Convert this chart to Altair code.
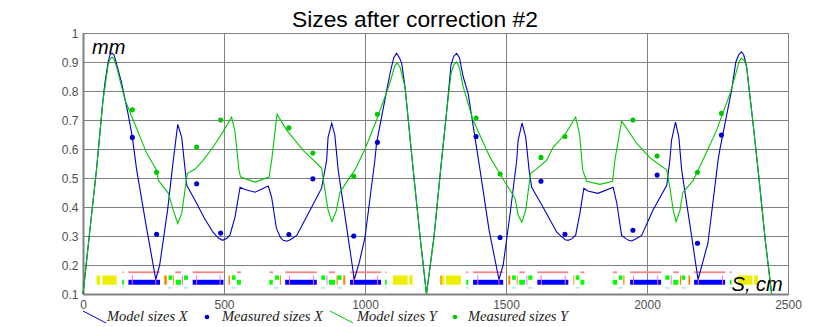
import altair as alt
import pandas as pd

TITLE = "Sizes after correction #2"

blue_s = [0,20,48,70,78,89,96,103,110,120,137,160,175,190,225,258,272,300,320,336,350,362,368,403,430,461,480,495,510,521,539,557,574,610,657,669,686,700,710,722,735,758,805,846,864,869,882,893,905,935,962,980,1000,1035,1041,1082,1092,1102,1112,1122,1130,1142,1170,1195,1218,1245,1268,1290,1305,1315,1325,1335,1348,1366,1408,1440,1475,1490,1515,1538,1543,1557,1570,1582,1591,1631,1680,1700,1710,1720,1733,1747,1762,1776,1790,1826,1880,1893,1910,1925,1935,1945,1960,1981,2021,2070,2081,2087,2101,2113,2123,2155,2181,2216,2252,2258,2300,2315,2325,2335,2343,2353,2376,2394,2420,2442]
blue_y = [.1,.28,.53,.76,.83,.9,.925,.93,.925,.89,.827,.72,.64,.53,.33,.15,.2,.39,.56,.685,.64,.53,.475,.413,.362,.313,.293,.285,.292,.303,.365,.468,.46,.451,.472,.433,.326,.295,.285,.282,.287,.302,.389,.465,.561,.64,.689,.648,.527,.33,.15,.21,.295,.561,.62,.827,.875,.915,.93,.915,.896,.813,.537,.3,.1,.3,.527,.734,.89,.92,.93,.915,.85,.79,.527,.32,.15,.2,.38,.561,.63,.69,.64,.527,.468,.4,.313,.295,.287,.285,.29,.303,.378,.465,.455,.447,.468,.413,.302,.291,.285,.283,.29,.302,.389,.475,.561,.63,.693,.64,.527,.32,.15,.275,.561,.596,.803,.9,.925,.935,.925,.885,.689,.527,.28,.1]

green_s = [0,20,48,70,89,96,103,110,120,149,178,226,261,267,303,320,336,350,370,397,426,461,497,527,539,553,559,610,660,669,688,722,780,846,858,869,883,899,911,946,964,1000,1041,1082,1095,1105,1114,1125,1142,1170,1195,1218,1245,1268,1290,1305,1315,1325,1335,1348,1383,1443,1471,1496,1532,1543,1556,1570,1587,1603,1644,1667,1709,1747,1761,1772,1786,1833,1878,1886,1910,1963,2010,2070,2081,2093,2103,2117,2127,2163,2181,2198,2247,2294,2318,2328,2335,2345,2353,2376,2394,2420,2442]
green_y = [.1,.28,.53,.76,.89,.91,.917,.91,.88,.769,.70,.585,.527,.492,.447,.389,.343,.378,.516,.53,.561,.606,.66,.71,.66,.527,.503,.486,.503,.561,.72,.665,.596,.534,.458,.389,.35,.389,.45,.503,.527,.6,.70,.81,.85,.885,.897,.88,.813,.537,.3,.1,.3,.527,.734,.86,.89,.9,.88,.815,.7,.572,.527,.486,.43,.372,.347,.389,.516,.527,.561,.606,.65,.71,.65,.527,.489,.478,.489,.561,.697,.62,.57,.527,.468,.389,.35,.389,.45,.49,.527,.561,.665,.79,.87,.905,.913,.905,.885,.689,.527,.28,.1]

meas_s = [175,261,403,488,730,815,960,1044,1394,1479,1624,1709,1950,2036,2179,2264]
meas_x = [.64,.306,.48,.31,.305,.497,.30,.623,.643,.295,.489,.306,.32,.51,.275,.648]
meas_yv = [.735,.52,.607,.70,.673,.586,.506,.72,.707,.514,.571,.643,.70,.576,.52,.723]

yellow_s0 = [48,69,1099,1157,1272,1287,2322,2380]
yellow_s1 = [61,119,1151,1169,1281,1340,2374,2393]
blue_bar_s0 = [161,389,717,947,1383,1611,1940,2167]
blue_bar_s1 = [273,498,829,1057,1490,1721,2050,2277]
red_s0 = [139,161,327,389,546,661,717,872,947,1071,1359,1383,1547,1611,1764,1879,1940,2093,2167,2294]
red_s1 = [144,272,348,498,560,674,829,894,1057,1076,1366,1490,1567,1721,1778,1894,2050,2113,2277,2300]
green_low_s0 = [139,329,546,661,872,1071,1359,1547,1764,1879,2093,2294]
green_low_s1 = [145,348,560,673,894,1077,1366,1567,1778,1894,2111,2300]
green_up_s0 = [303,358,528,681,845,903,1521,1579,1747,1900,2065,2123]
green_up_s1 = [317,372,541,695,859,917,1535,1593,1760,1913,2080,2135]
orange_s0 = [288,319,516,698,899,923,1267,1508,1538,1739,1916,2117,2147]
orange_s1 = [297,322,521,702,903,930,1272,1515,1541,1742,1920,2121,2153]
magenta_s = [175,258,353,403,486,732,817,865,959,1044,1400,1475,1574,1625,1710,1952,2038,2086,2182,2268]
cyan_s0 = [139,301,358,527,678,844,903,1071,1359,1521,1579,1747,1900,2065,2123,2294]
cyan_s1 = [144,314,371,541,693,858,917,1076,1366,1535,1593,1760,1913,2079,2137,2300]

legend_labels = ["Model sizes X", "Measured sizes X", "Model sizes Y", "Measured sizes Y"]

GRID = "#808080"
BLUE = "#0000cc"
GREEN = "#00c800"
xs = alt.Scale(domain=[0, 2500], nice=False, zero=False)
ys = alt.Scale(domain=[0.1, 1], nice=False, zero=False)
X = alt.X("s:Q", scale=xs, title=None,
          axis=alt.Axis(values=[0, 500, 1000, 1500, 2000, 2500], format="d", grid=True, gridColor=GRID,
                        gridOpacity=1, domainColor=GRID, domainWidth=2, ticks=False, labelPadding=5,
                        labelFont="Liberation Sans", labelFontSize=12, labelColor="#505050", labelFlush=False))
Y = alt.Y("y:Q", scale=ys, title=None,
          axis=alt.Axis(values=[.1, .2, .3, .4, .5, .6, .7, .8, .9, 1], format="~g", grid=True, gridColor=GRID,
                        gridOpacity=1, domainColor=GRID, domainWidth=2, ticks=False, labelPadding=5,
                        labelFont="Liberation Sans", labelFontSize=12, labelColor="#505050"))

def band(s0, s1, y0, y1, color):
    d = pd.DataFrame({"s": s0, "s2": s1, "y": [y0] * len(s0), "y2": [y1] * len(s0)})
    return alt.Chart(d).mark_rect(color=color, opacity=1, strokeWidth=0).encode(x=X, x2="s2:Q", y=Y, y2="y2:Q")

def thin(s, y0, y1, color):
    d = pd.DataFrame({"s": s, "y": [y0] * len(s), "y2": [y1] * len(s)})
    return alt.Chart(d).mark_rule(color=color, strokeWidth=1).encode(x=X, y=Y, y2="y2:Q")

lattice = [
    band(yellow_s0, yellow_s1, .164, .132, "#eeee00"),
    band(blue_bar_s0, blue_bar_s1, .149, .132, "#0000ff"),
    band(red_s0, red_s1, .178, .172, "#ff8080"),
    band(green_low_s0, green_low_s1, .149, .132, "#00ff00"),
    band(green_up_s0, green_up_s1, .164, .149, "#00ff00"),
    band(orange_s0, orange_s1, .164, .132, "#ff8000"),
    thin(magenta_s, .164, .132, "#ff66ff"),
    band(cyan_s0, cyan_s1, .123, .119, "#80e0ff"),
]

def curve(s, y, color):
    return alt.Chart(pd.DataFrame({"s": s, "y": y})).mark_line(color=color, strokeWidth=1.1).encode(
        x=X, y=Y, order="s:Q")

def dots(s, y, color):
    return alt.Chart(pd.DataFrame({"s": s, "y": y})).mark_circle(color=color, size=26, opacity=1).encode(x=X, y=Y)

def corner(text, s, y):
    return alt.Chart(pd.DataFrame({"s": [s], "y": [y], "t": [text]})).mark_text(
        font="Liberation Sans", fontStyle="italic", fontSize=20, color="#000000", align="left", baseline="alphabetic"
    ).encode(x=X, y=Y, text="t:N")

def leg_text(i, x):
    return alt.Chart(pd.DataFrame({"t": [legend_labels[i]]})).mark_text(
        font="Liberation Serif", fontStyle="italic", fontSize=14.5, color="#222222", align="left", baseline="alphabetic"
    ).encode(x=alt.value(x), y=alt.value(288), text="t:N")

def leg_line(x0, color):
    return alt.Chart(pd.DataFrame({"k": [0]})).mark_rule(color=color, strokeWidth=1).encode(
        x=alt.value(x0), x2=alt.value(x0 + 23), y=alt.value(278), y2=alt.value(290))

def leg_dot(x0, color):
    return alt.Chart(pd.DataFrame({"k": [0]})).mark_circle(color=color, size=22, opacity=1).encode(
        x=alt.value(x0), y=alt.value(284))

chart = alt.layer(
    *lattice,
    curve(blue_s, blue_y, BLUE), curve(green_s, green_y, GREEN),
    dots(meas_s, meas_x, BLUE), dots(meas_s, meas_yv, GREEN),
    corner("mm", 32, .927), corner("S, cm", 2300, .112),
    leg_line(0, BLUE), leg_text(0, 24), leg_dot(124, BLUE), leg_text(1, 139),
    leg_line(247, GREEN), leg_text(2, 274), leg_dot(372, GREEN), leg_text(3, 385),
).properties(
    width=705, height=261, autosize="none",
    padding={"left": 75, "top": 25, "right": 34, "bottom": 33},
    title=alt.TitleParams(TITLE, font="Liberation Sans", fontSize=22.8, fontWeight="normal", color="#000000",
                          anchor="start", frame="group", dx=209, offset=-5),
    background="#ffffff",
).configure_view(stroke=GRID, strokeWidth=1)

chart.save("out.html", embed_options={"renderer": "svg", "actions": False})
